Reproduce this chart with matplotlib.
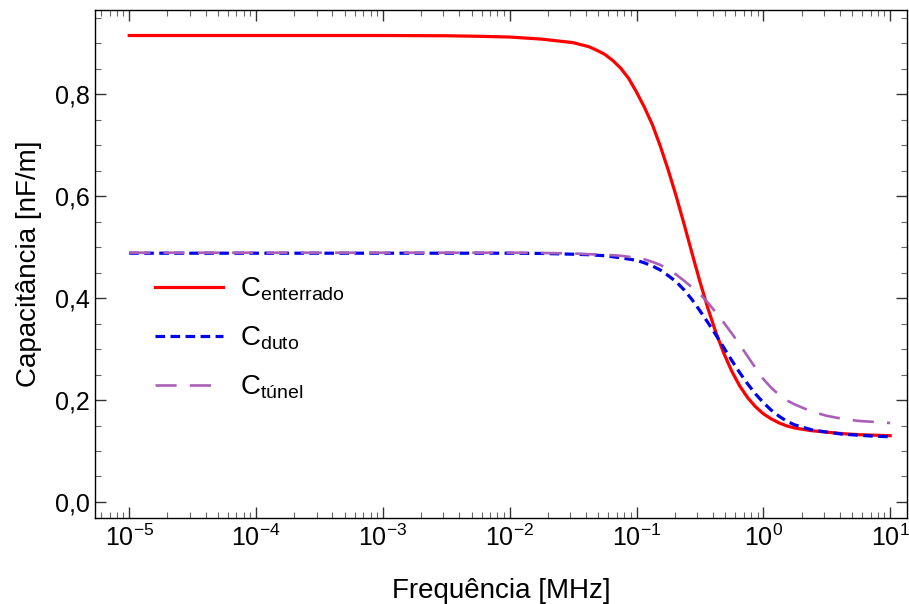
import numpy as np
import matplotlib
matplotlib.use("Agg")
import matplotlib.pyplot as plt
from matplotlib.ticker import LogLocator, MultipleLocator, FuncFormatter, FixedLocator, NullFormatter

plt.rcParams['font.family'] = ['Liberation Sans', 'DejaVu Sans']
plt.rcParams['mathtext.fontset'] = 'custom'
plt.rcParams['mathtext.rm'] = 'Liberation Sans'
plt.rcParams['mathtext.it'] = 'Liberation Sans:italic'
plt.rcParams['mathtext.bf'] = 'Liberation Sans:bold'

# log10 of frequency in MHz
log_freq = [-5, -4, -3, -2.5, -2.25, -2, -1.75, -1.5, -1.375, -1.3125, -1.25, -1.1875, -1.125,
            -1.0625, -1.0,
            -0.9375, -0.875, -0.8125, -0.75, -0.6875, -0.625, -0.5625, -0.5, -0.4375,
            -0.375, -0.3125, -0.25, -0.1875, -0.125, -0.0625, 0, 0.0625, 0.125, 0.1875,
            0.25, 0.375, 0.5, 0.625, 0.75, 0.875, 1.0]
c_enterrado = [0.915, 0.915, 0.915, 0.9145, 0.9135, 0.912, 0.908, 0.901, 0.893, 0.886, 0.878, 0.866, 0.851,
               0.831, 0.804,
               0.774, 0.740, 0.698, 0.651, 0.600, 0.545, 0.488, 0.432, 0.380,
               0.333, 0.292, 0.257, 0.228, 0.205, 0.187, 0.173, 0.163, 0.155, 0.149,
               0.145, 0.140, 0.137, 0.134, 0.132, 0.131, 0.130]
c_duto = [0.488, 0.488, 0.488, 0.488, 0.488, 0.488, 0.4875, 0.486, 0.485, 0.484, 0.483, 0.481, 0.479,
          0.4765, 0.474,
          0.469, 0.463, 0.455, 0.444, 0.432, 0.416, 0.397, 0.375, 0.352,
          0.328, 0.303, 0.278, 0.254, 0.232, 0.212, 0.195, 0.180, 0.168, 0.158,
          0.151, 0.142, 0.137, 0.133, 0.131, 0.129, 0.128]
c_tunel = [0.489, 0.489, 0.489, 0.489, 0.489, 0.489, 0.4885, 0.4875, 0.486, 0.4855, 0.485, 0.484, 0.483,
           0.481, 0.479,
           0.476, 0.471, 0.465, 0.456, 0.446, 0.434, 0.421, 0.408, 0.391,
           0.372, 0.352, 0.331, 0.309, 0.286, 0.263, 0.241, 0.224, 0.210, 0.199,
           0.191, 0.178, 0.169, 0.163, 0.159, 0.157, 0.155]

x_ticks = [1e-5, 1e-4, 1e-3, 1e-2, 1e-1, 1e0, 1e1]
x_ticklabels = [r'$10^{-5}$', r'$10^{-4}$', r'$10^{-3}$', r'$10^{-2}$', r'$10^{-1}$', r'$10^{0}$', r'$10^{1}$']

freq = 10.0 ** np.array(log_freq)

fig = plt.figure(figsize=(9.09, 6.04), dpi=100)
ax = fig.add_axes([0.1045, 0.1424, 0.8935, 0.8410])

ax.plot(freq, c_enterrado, color='#ff0000', lw=2.3, label=r'C$_{\mathrm{enterrado}}$')
ax.plot(freq, c_duto, color='#0000ee', lw=2.3, dashes=(3.0, 1.7), label=r'C$_{\mathrm{duto}}$')
ax.plot(freq, c_tunel, color='#aa5fb8', lw=1.9, dashes=(8, 5), label=r'C$_{\mathrm{túnel}}$')

ax.set_xscale('log')
ax.set_xlim(10 ** -5.27, 10 ** 1.134)
ax.set_ylim(-0.0314, 0.965)

ax.xaxis.set_major_locator(FixedLocator(x_ticks))
ax.set_xticklabels(x_ticklabels)
ax.xaxis.set_minor_locator(LogLocator(base=10, subs=np.arange(2, 10), numticks=20))
ax.xaxis.set_minor_formatter(NullFormatter())
ax.yaxis.set_major_locator(MultipleLocator(0.2))
ax.yaxis.set_minor_locator(MultipleLocator(0.05))
ax.yaxis.set_major_formatter(FuncFormatter(lambda v, p: f"{v:.1f}".replace('.', ',').replace('-0,0', '0,0')))

ax.tick_params(which='both', direction='in', top=True, right=True, labelsize=18)
ax.tick_params(which='major', length=8, width=1.0, color='#333333')
ax.tick_params(which='minor', length=4.5, width=0.8, color='#666666')
ax.tick_params(axis='x', pad=5)
ax.tick_params(axis='y', pad=4)

for s in ax.spines.values():
    s.set_linewidth(1.0)

ax.set_xlabel('Frequência [MHz]', fontsize=20, labelpad=19)
ax.set_ylabel('Capacitância [nF/m]', fontsize=20, labelpad=9)

ax.legend(loc='center left', bbox_to_anchor=(0.060, 0.354), borderaxespad=0, frameon=False,
          fontsize=20, handlelength=2.45, handletextpad=0.6, labelspacing=0.78)

fig.savefig('out.png', dpi=100)
